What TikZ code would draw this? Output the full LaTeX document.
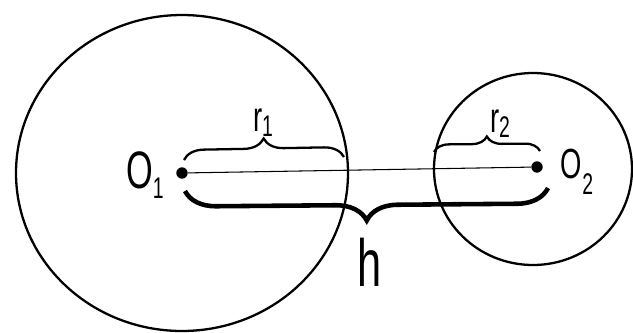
\documentclass[tikz,border=0pt]{standalone}
\usepackage{fontspec}
\newfontfamily\lblfont[FakeStretch=0.65]{Liberation Sans}
\usetikzlibrary{decorations.pathreplacing, positioning}
\newcommand{\sublbl}[3][6pt]{#2\raisebox{-#1}{\fontsize{17}{17}\selectfont #3}}

\begin{document}
\begin{tikzpicture}[
    x=0.02cm, y=0.02cm,
    rim/.style={line width=1.3pt},
    lbl/.style={font=\lblfont\fontsize{24}{24}\selectfont, inner sep=0pt},
    dot/.style={circle, fill, inner sep=0pt, minimum size=6.5pt},
    topbrace/.style={decorate, line width=1.3pt, decoration={brace, amplitude=#1}},
    hbrace/.style={decorate, line width=2.6pt, decoration={brace, mirror, amplitude=0.62cm}},
]
\useasboundingbox (0,0) rectangle (633,-332);

% circles
\draw[rim] (182,-173) ellipse [x radius=166, y radius=158];
\draw[rim] (533,-169) ellipse [x radius=99, y radius=96];

\node[dot] (o1) at (182,-173) {};
\node[dot] (o2) at (537,-167) {};
\draw[line width=0.6pt] (o1) -- (o2);

% radii and distance
\coordinate (r1a) at (184,-160);
\coordinate (r1b) at (344,-157);
\coordinate (r2a) at (434,-152);
\coordinate (r2b) at (540,-151);
\coordinate (ha) at (185,-191);
\coordinate (hb) at (548,-188);
\draw[topbrace=0.4cm] (r1a) -- (r1b);
\draw[topbrace=0.3cm] (r2a) -- (r2b);
\draw[hbrace] (ha) -- (hb);

\node[lbl, font=\lblfont\fontsize{30}{30}\selectfont] (lo1) at (145,-175) {\sublbl{O}{1}};
\node[lbl] (lo2) at (577,-172) {\sublbl[9pt]{O}{2}};
\node[lbl] (lr1) at (263,-123) {\sublbl[3pt]{r}{1}};
\node[lbl] (lr2) at (500,-124) {\sublbl[3pt]{r}{2}};
\node[lbl, font=\lblfont\fontsize{38}{38}\selectfont] (lh) at (370,-262) {h};

\end{tikzpicture}
\end{document}
